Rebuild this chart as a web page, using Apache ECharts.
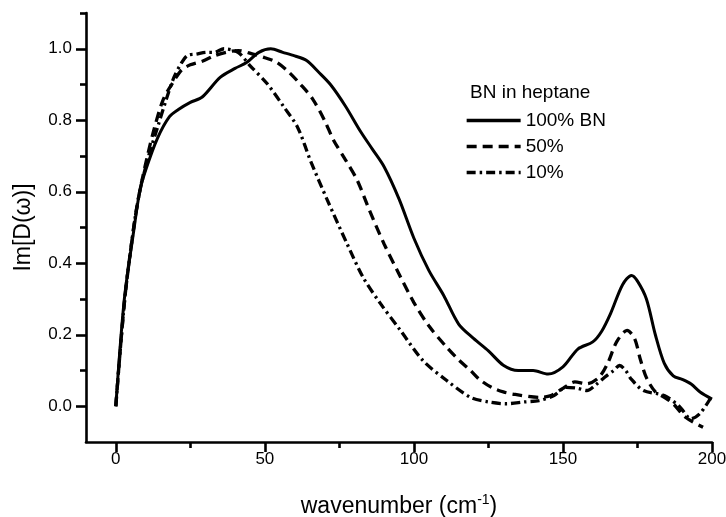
<!DOCTYPE html>
<html>
<head>
<meta charset="utf-8">
<script src="https://cdn.jsdelivr.net/npm/echarts@6/dist/echarts.min.js"></script>
<style>
html,body{margin:0;padding:0;background:#fff;}
#chart{width:726px;height:517px;}
</style>
</head>
<body>
<div id="chart"></div>
<script>
// ---- data ----
const xTickValues = [0, 50, 100, 150, 200];
const xMinorValues = [25, 75, 125, 175];
const yTickValues = [0, 0.2, 0.4, 0.6, 0.8, 1.0];
const yMinorValues = [0.1, 0.3, 0.5, 0.7, 0.9, 1.1];

const bn100X = [0, 2.8, 6, 8, 10, 14, 18, 21, 25, 29, 35, 40, 44, 48, 52, 56, 60, 64, 68, 72, 77, 82, 86, 90, 95, 100, 105, 110, 115, 120, 125, 130, 135, 140, 145, 150, 155, 160, 163, 166, 170, 173, 175, 178, 181, 184, 187, 190, 193, 196, 200];
const bn100Y = [0, 0.295, 0.49, 0.6, 0.66, 0.75, 0.81, 0.83, 0.85, 0.865, 0.92, 0.945, 0.962, 0.99, 1.0, 0.99, 0.98, 0.967, 0.935, 0.9, 0.84, 0.77, 0.72, 0.67, 0.58, 0.47, 0.38, 0.31, 0.23, 0.19, 0.155, 0.115, 0.1, 0.1, 0.09, 0.11, 0.16, 0.18, 0.21, 0.26, 0.34, 0.366, 0.35, 0.3, 0.2, 0.12, 0.085, 0.075, 0.062, 0.04, 0.02];

const bn50X = [0, 3, 6, 8, 10.6, 13, 16, 19.5, 22, 25, 29, 33, 37, 41, 46, 50, 54, 58, 62, 66, 70, 73, 77, 81, 85, 90, 95, 100, 105, 111, 115, 119, 122, 126, 130, 134, 142, 146, 150, 154, 158, 162, 165, 168, 171.5, 174, 176, 178, 181, 184, 187, 191, 197];
const bn50Y = [0, 0.3, 0.5, 0.6, 0.7, 0.78, 0.86, 0.91, 0.94, 0.955, 0.965, 0.98, 0.99, 0.995, 0.985, 0.975, 0.962, 0.935, 0.9, 0.86, 0.8, 0.745, 0.69, 0.632, 0.55, 0.454, 0.37, 0.29, 0.225, 0.165, 0.13, 0.1, 0.075, 0.053, 0.04, 0.033, 0.025, 0.03, 0.05, 0.068, 0.063, 0.08, 0.12, 0.18, 0.212, 0.19, 0.13, 0.08, 0.04, 0.025, 0.007, -0.03, -0.059];

const bn10X = [0, 3, 6, 8, 11, 14, 17, 19.5, 22, 24, 27, 30.7, 33, 36.3, 41, 45, 50.8, 56.4, 61, 65.3, 71, 77.6, 83, 88.8, 95.5, 103, 111, 119, 125, 131, 137, 142, 147, 151, 155, 158, 161, 164, 167, 169, 171, 173, 177, 184, 189, 193, 196, 199.4];
const bn10Y = [0, 0.3, 0.5, 0.6, 0.7, 0.78, 0.86, 0.92, 0.96, 0.981, 0.985, 0.99, 0.99, 1.0, 0.99, 0.953, 0.902, 0.837, 0.78, 0.687, 0.576, 0.454, 0.36, 0.287, 0.212, 0.128, 0.072, 0.025, 0.012, 0.007, 0.012, 0.016, 0.03, 0.053, 0.05, 0.044, 0.06, 0.081, 0.1, 0.114, 0.1, 0.075, 0.044, 0.03, 0.0, -0.035, -0.02, 0.021];

const seriesNames = ['100% BN', '50%', '10%'];
const legendTitle = 'BN in heptane';

const zip = (xs, ys) => xs.map((x, i) => [x, ys[i]]);
const FONT = 'Liberation Sans, Arial, sans-serif';

const chart = echarts.init(document.getElementById('chart'), null, {renderer: 'canvas'});

const baseX = {type: 'value', min: -10, max: 200, gridIndex: 0, splitLine: {show: false}};
const baseY = {type: 'value', min: -0.1, max: 1.1, gridIndex: 0, splitLine: {show: false}};

chart.setOption({
  backgroundColor: '#fff',
  animation: false,
  grid: {left: 86, right: 14, top: 13, bottom: 75, containLabel: false, outerBoundsMode: 'none'},
  xAxis: [
    Object.assign({}, baseX, {
      position: 'bottom',
      axisLine: {show: true, onZero: false, lineStyle: {color: '#000', width: 2.6}},
      axisTick: {show: true, length: 10, inside: false, customValues: xTickValues, lineStyle: {color: '#000', width: 2.6}},
      axisLabel: {show: true, customValues: xTickValues, margin: 9, color: '#000', fontSize: 17, fontFamily: FONT},
      name: 'wavenumber (cm{sup|-1})',
      nameLocation: 'middle',
      nameGap: 51,
      nameTextStyle: {color: '#000', fontSize: 23, fontFamily: FONT,
        rich: {sup: {fontSize: 14, fontFamily: FONT, color: '#000', padding: [0, 0, 14, 0]}}}
    }),
    Object.assign({}, baseX, {
      position: 'bottom',
      axisLine: {show: false, onZero: false},
      axisTick: {show: true, length: 6, customValues: xMinorValues, lineStyle: {color: '#000', width: 2.6}},
      axisLabel: {show: false}
    })
  ],
  yAxis: [
    Object.assign({}, baseY, {
      position: 'left',
      axisLine: {show: true, onZero: false, lineStyle: {color: '#000', width: 2.6}},
      axisTick: {show: true, length: 10, customValues: yTickValues, lineStyle: {color: '#000', width: 2.6}},
      axisLabel: {show: true, customValues: yTickValues, margin: 14, color: '#000', fontSize: 17, fontFamily: FONT,
        formatter: v => v.toFixed(1)},
      name: 'Im[D(ω)]',
      nameLocation: 'middle',
      nameGap: 51,
      nameTextStyle: {color: '#000', fontSize: 23, fontFamily: FONT}
    }),
    Object.assign({}, baseY, {
      position: 'left',
      axisLine: {show: false, onZero: false},
      axisTick: {show: true, length: 6, customValues: yMinorValues, lineStyle: {color: '#000', width: 2.6}},
      axisLabel: {show: false}
    })
  ],
  legend: {
    orient: 'vertical',
    left: 460, top: 106,
    itemWidth: 54, itemHeight: 14, itemGap: 7,
    itemStyle: {opacity: 0},
    lineStyle: {width: 3.3},
    textStyle: {color: '#000', fontSize: 19, fontFamily: FONT},
    data: seriesNames
  },
  graphic: [{
    type: 'text', left: 470, top: 83,
    style: {text: legendTitle, fill: '#000', font: '19px ' + FONT}
  }],
  series: [
    {name: seriesNames[0], type: 'line', xAxisIndex: 0, yAxisIndex: 0, data: zip(bn100X, bn100Y),
      smooth: 0.3, symbol: 'none', lineStyle: {color: '#000', width: 3, type: 'solid'}, itemStyle: {color: '#000'}},
    {name: seriesNames[1], type: 'line', xAxisIndex: 0, yAxisIndex: 0, data: zip(bn50X, bn50Y),
      smooth: 0.3, symbol: 'none', lineStyle: {color: '#000', width: 3.3, type: [10, 6], cap: 'butt'}, itemStyle: {color: '#000'}},
    {name: seriesNames[2], type: 'line', xAxisIndex: 0, yAxisIndex: 0, data: zip(bn10X, bn10Y),
      smooth: 0.3, symbol: 'none', lineStyle: {color: '#000', width: 3.3, type: [9, 4, 2.5, 4], cap: 'butt'}, itemStyle: {color: '#000'}}
  ]
});
</script>
</body>
</html>
